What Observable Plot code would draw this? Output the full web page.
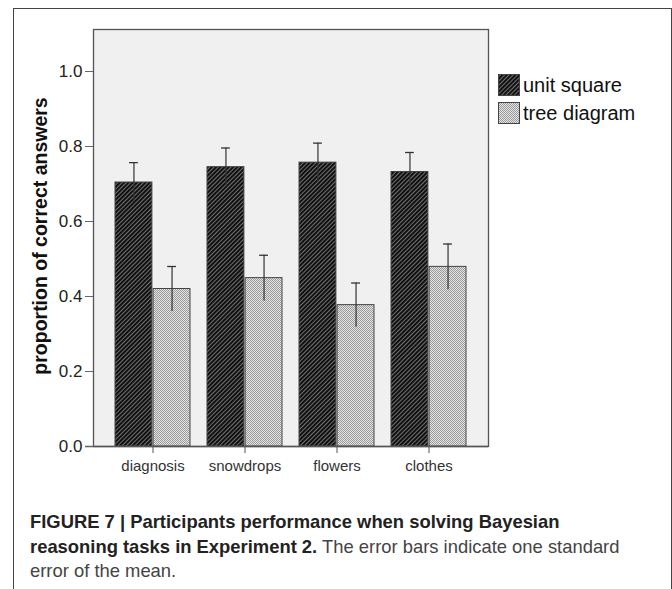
<!DOCTYPE html>
<html>
<head>
<meta charset="utf-8">
<script src="https://cdn.jsdelivr.net/npm/d3@7"></script>
<script src="https://cdn.jsdelivr.net/npm/@observablehq/plot@0.6"></script>
<style>
  html, body { margin: 0; padding: 0; background: #fff; }
  body { width: 672px; height: 589px; position: relative; overflow: hidden; font-family: "Liberation Sans", Arial, sans-serif; }
  #frame { position: absolute; left: 13px; top: 8px; width: 657px; height: 700px; border: 1.5px solid #444; }
  #chart { position: absolute; left: 0; top: 0; }
  #ylabel { position: absolute; left: 40px; top: 236px; transform: translate(-50%, -50%) rotate(-90deg); white-space: nowrap; font: bold 19.5px "Liberation Sans", Arial, sans-serif; color: #111; }
  #legend { position: absolute; left: 498px; top: 71px; font: 20px "Liberation Sans", Arial, sans-serif; color: #111; }
  .item { display: flex; align-items: center; height: 28px; }
  .item svg { margin-right: 3px; }
  #caption { position: absolute; left: 30px; top: 510px; font: 18.4px "Liberation Sans", Arial, sans-serif; line-height: 24.5px; color: #444; }
  #caption div { white-space: nowrap; }
  #caption b { font-weight: 700; color: #222; }
</style>
</head>
<body>
<svg width="0" height="0" style="position:absolute">
  <defs>
    <pattern id="hatch" width="3" height="3" patternUnits="userSpaceOnUse" patternTransform="rotate(45)">
      <rect width="3" height="3" fill="#707070"></rect>
      <rect width="1.9" height="3" fill="#0c0c0c"></rect>
    </pattern>
    <pattern id="dots" width="2" height="2" patternUnits="userSpaceOnUse">
      <rect width="2" height="2" fill="#e4e4e4"></rect>
      <rect width="1" height="1" fill="#9a9a9a"></rect>
      <rect x="1" y="1" width="1" height="1" fill="#9a9a9a"></rect>
    </pattern>
  </defs>
</svg>
<div id="frame"></div>
<div id="chart"></div>
<div id="ylabel">proportion of correct answers</div>
<div id="legend"></div>
<div id="caption">
  <div><b>FIGURE 7 | Participants performance when solving Bayesian</b></div>
  <div><b>reasoning tasks in Experiment 2.</b> The error bars indicate one standard</div>
  <div>error of the mean.</div>
</div>
<script>
const categories = ["diagnosis", "snowdrops", "flowers", "clothes"];
const seriesNames = ["unit square", "tree diagram"];
const unitSquare   = [0.704, 0.745, 0.757, 0.732];
const unitSquareSE = [0.053, 0.051, 0.052, 0.052];
const treeDiagram   = [0.420, 0.449, 0.377, 0.479];
const treeDiagramSE = [0.060, 0.061, 0.059, 0.061];
const yTicks = [0, 0.2, 0.4, 0.6, 0.8, 1.0];

const unitData = categories.map((c, i) => ({category: c, value: unitSquare[i], lo: unitSquare[i] - unitSquareSE[i], hi: unitSquare[i] + unitSquareSE[i]}));
const treeData = categories.map((c, i) => ({category: c, value: treeDiagram[i], lo: treeDiagram[i] - treeDiagramSE[i], hi: treeDiagram[i] + treeDiagramSE[i]}));

const fills = {"unit square": "url(#hatch)", "tree diagram": "url(#dots)"};
const half = 38.1;

const chart = Plot.plot({
  width: 672,
  height: 490,
  marginLeft: 93,
  marginRight: 184,
  marginTop: 29,
  marginBottom: 44,
  style: {fontFamily: "'Liberation Sans', Arial, sans-serif", color: "#222", background: "transparent"},
  x: {domain: categories, paddingInner: 0.18, paddingOuter: 0.215, label: null},
  y: {domain: [0, 1.112], label: null},
  marks: [
    Plot.frame({fill: "#f0f0f0", stroke: "#555", strokeWidth: 1.3}),
    Plot.barY(unitData, {x: "category", y: "value", fill: fills["unit square"], stroke: "#444", strokeWidth: 1, insetRight: half}),
    Plot.barY(treeData, {x: "category", y: "value", fill: fills["tree diagram"], stroke: "#444", strokeWidth: 1, insetLeft: half}),
    Plot.ruleX(unitData, {x: "category", y1: "lo", y2: "hi", dx: -half / 2, stroke: "#333", strokeWidth: 1.2}),
    Plot.ruleX(treeData, {x: "category", y1: "lo", y2: "hi", dx: half / 2, stroke: "#333", strokeWidth: 1.2}),
    Plot.tickY(unitData, {x: "category", y: "hi", dx: -half / 2, insetLeft: half - 5, insetRight: half - 5, stroke: "#333", strokeWidth: 1.3}),
    Plot.tickY(treeData, {x: "category", y: "hi", dx: half / 2, insetLeft: half - 5, insetRight: half - 5, stroke: "#333", strokeWidth: 1.3}),
    Plot.ruleY([0], {insetLeft: -8, stroke: "#555", strokeWidth: 1.3}),
    Plot.axisY({ticks: yTicks, tickFormat: d3.format(".1f"), tickSize: 8, tickPadding: 3, fontSize: 17, stroke: "#666", label: null}),
    Plot.axisX({tickSize: 7, tickPadding: 7, fontSize: 15, stroke: "#555", fill: "#333", label: null})
  ]
});
document.getElementById("chart").appendChild(chart);

const legend = document.getElementById("legend");
seriesNames.forEach(name => {
  const item = document.createElement("div");
  item.className = "item";
  item.innerHTML = `<svg width="22" height="22"><rect x="0.5" y="0.5" width="21" height="21" fill="${fills[name]}" stroke="#444"></rect></svg><span>${name}</span>`;
  legend.appendChild(item);
});
</script>
</body>
</html>
